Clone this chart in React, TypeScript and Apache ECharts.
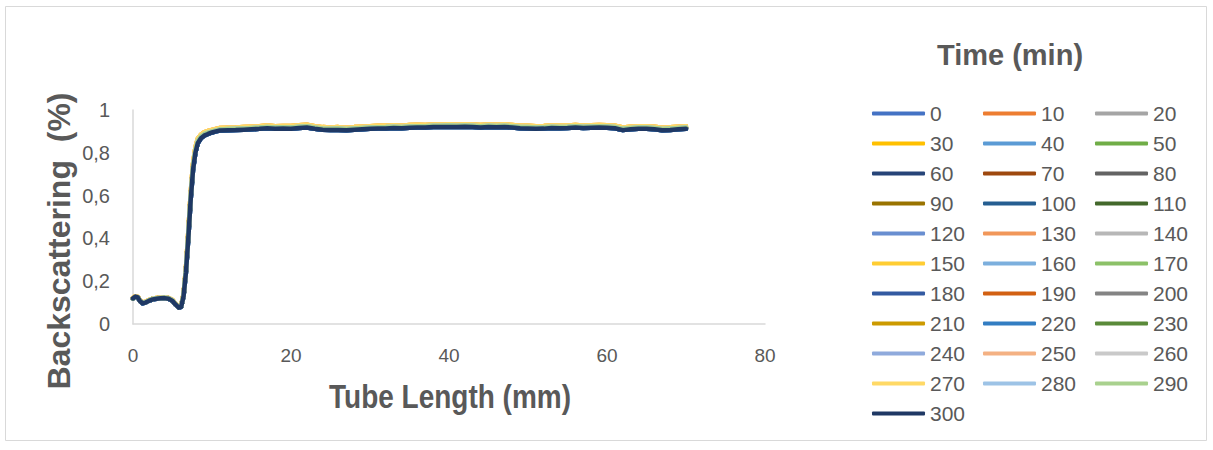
import React, { useEffect, useRef } from "react";
import * as echarts from "echarts";

const times = [0, 10, 20, 30, 40, 50, 60, 70, 80, 90, 100, 110, 120, 130, 140, 150, 160, 170, 180, 190, 200, 210, 220, 230, 240, 250, 260, 270, 280, 290, 300];

const seriesColors = [
  "#4472C4", "#ED7D31", "#A5A5A5", "#FFC000", "#5B9BD5", "#70AD47",
  "#264478", "#9E480E", "#636363", "#997300", "#255E91", "#43682B",
  "#698ED0", "#F1975A", "#B7B7B7", "#FFCD33", "#7CAFDD", "#8CC168",
  "#335AA1", "#D26012", "#848484", "#CC9A00", "#327DC2", "#5A8A39",
  "#8FAADC", "#F4B183", "#C9C9C9", "#FFD966", "#9DC3E6", "#A9D18E",
  "#1F3864",
];

const tubeLength = [
  0, 0.3, 0.6, 0.9, 1.2, 1.6, 2, 2.5, 3, 3.5,
  4, 4.5, 5, 5.4, 5.8, 6.1, 6.4, 6.7, 7, 7.3,
  7.6, 7.9, 8.2, 8.6, 9, 9.5, 10, 10.5, 11,
  12, 13, 14, 15, 16, 17, 18, 19, 20, 21,
  22, 23, 24, 25, 26, 27, 28, 29, 30, 31,
  32, 33, 34, 35, 36, 37, 38, 39, 40, 41,
  42, 43, 44, 45, 46, 47, 48, 49, 50, 51,
  52, 53, 54, 55, 56, 57, 58, 59, 60, 61,
  62, 63, 64, 65, 66, 67, 68, 69, 70,
];

// lowest profile (darkest curves, e.g. 300 min)
const profileLow = [
  0.120, 0.128, 0.124, 0.106, 0.097, 0.100, 0.108, 0.115, 0.118, 0.120,
  0.121, 0.118, 0.108, 0.090, 0.076, 0.080, 0.130, 0.240, 0.400, 0.580,
  0.720, 0.800, 0.845, 0.868, 0.880, 0.888, 0.895, 0.900, 0.904,
  0.905, 0.906, 0.908, 0.910, 0.912, 0.915, 0.912, 0.913, 0.912, 0.916,
  0.918, 0.912, 0.908, 0.906, 0.907, 0.905, 0.908, 0.910, 0.912, 0.913,
  0.914, 0.916, 0.915, 0.917, 0.918, 0.918, 0.920, 0.920, 0.921, 0.920,
  0.922, 0.920, 0.918, 0.920, 0.919, 0.921, 0.918, 0.915, 0.914, 0.912,
  0.913, 0.916, 0.915, 0.916, 0.918, 0.916, 0.917, 0.918, 0.917, 0.915,
  0.906, 0.910, 0.912, 0.912, 0.910, 0.905, 0.907, 0.910, 0.912,
];

const profileMid = [
  0.118, 0.126, 0.125, 0.108, 0.099, 0.102, 0.110, 0.117, 0.120, 0.122,
  0.123, 0.120, 0.110, 0.092, 0.078, 0.083, 0.135, 0.250, 0.415, 0.595,
  0.735, 0.812, 0.855, 0.876, 0.887, 0.894, 0.900, 0.905, 0.909,
  0.911, 0.912, 0.913, 0.916, 0.918, 0.921, 0.918, 0.919, 0.918, 0.922,
  0.924, 0.918, 0.914, 0.912, 0.913, 0.911, 0.914, 0.916, 0.918, 0.919,
  0.920, 0.922, 0.921, 0.923, 0.924, 0.924, 0.926, 0.926, 0.927, 0.926,
  0.928, 0.926, 0.924, 0.926, 0.925, 0.927, 0.924, 0.921, 0.920, 0.918,
  0.919, 0.922, 0.921, 0.922, 0.924, 0.922, 0.923, 0.924, 0.923, 0.921,
  0.912, 0.916, 0.918, 0.918, 0.916, 0.911, 0.913, 0.916, 0.918,
];

const profileHigh = [
  0.122, 0.130, 0.127, 0.110, 0.101, 0.104, 0.112, 0.119, 0.122, 0.124,
  0.125, 0.122, 0.112, 0.094, 0.080, 0.085, 0.140, 0.260, 0.430, 0.610,
  0.750, 0.825, 0.866, 0.885, 0.895, 0.902, 0.907, 0.912, 0.916,
  0.917, 0.918, 0.920, 0.922, 0.924, 0.928, 0.924, 0.925, 0.925, 0.929,
  0.931, 0.924, 0.920, 0.918, 0.920, 0.917, 0.920, 0.922, 0.924, 0.926,
  0.927, 0.929, 0.927, 0.930, 0.931, 0.930, 0.932, 0.932, 0.933, 0.932,
  0.934, 0.932, 0.930, 0.932, 0.931, 0.933, 0.930, 0.927, 0.926, 0.924,
  0.925, 0.928, 0.927, 0.928, 0.930, 0.928, 0.929, 0.930, 0.929, 0.927,
  0.918, 0.922, 0.924, 0.924, 0.922, 0.917, 0.919, 0.922, 0.924,
];

const highTimes = [30, 150, 250, 270];
const lowTimes = [60, 100, 180, 220, 300];

const xTicks = { min: 0, max: 80, interval: 20 };
const yTicks = { min: 0, max: 1, interval: 0.2 };

const textGray = "#595959";
const axisGray = "#D9D9D9";

function profileFor(t: number): number[] {
  if (highTimes.includes(t)) return profileHigh;
  if (lowTimes.includes(t)) return profileLow;
  return profileMid;
}

export default function App() {
  const ref = useRef<HTMLDivElement>(null);

  useEffect(() => {
    if (!ref.current) return;
    const chart = echarts.init(ref.current, undefined, { renderer: "svg" });

    const series = times.map((t, i) => {
      const prof = profileFor(t);
      return {
        name: String(t),
        type: "line",
        symbol: "none",
        showSymbol: false,
        data: tubeLength.map((x, j) => [x, prof[j]]),
        lineStyle: { width: 4.5, color: seriesColors[i], cap: "round", join: "round" },
        itemStyle: { color: seriesColors[i] },
        emphasis: { disabled: true },
      };
    });

    const colNames = [0, 1, 2].map((c) => times.filter((_, i) => i % 3 === c).map(String));
    const colLeft = [872, 983, 1095];

    const legends = colNames.map((names, c) => ({
      data: names,
      orient: "vertical",
      left: colLeft[c],
      top: 103,
      height: 345,
      icon: "roundRect",
      itemWidth: 53,
      itemHeight: 4,
      itemGap: 9,
      padding: 0,
      selectedMode: false,
      textStyle: { color: textGray, fontSize: 21, fontFamily: "Liberation Sans, Arial, sans-serif" },
    }));

    chart.setOption({
      animation: false,
      backgroundColor: "#ffffff",
      color: seriesColors,
      grid: { left: 133, right: 448, top: 110, bottom: 126, containLabel: false },
      xAxis: {
        type: "value",
        min: xTicks.min,
        max: xTicks.max,
        interval: xTicks.interval,
        axisLine: { show: true, lineStyle: { color: axisGray, width: 1.5 } },
        axisTick: { show: false },
        splitLine: { show: false },
        axisLabel: {
          color: textGray,
          fontSize: 19,
          margin: 22,
          fontFamily: "Liberation Sans Narrow, Arial Narrow, Liberation Sans, sans-serif",
        },
      },
      yAxis: {
        type: "value",
        min: yTicks.min,
        max: yTicks.max,
        interval: yTicks.interval,
        axisLine: { show: true, lineStyle: { color: axisGray, width: 1.5 } },
        axisTick: { show: false },
        splitLine: { show: false },
        axisLabel: {
          color: textGray,
          fontSize: 20,
          margin: 23,
          fontFamily: "Liberation Sans, Arial, sans-serif",
          formatter: (v: number) => String(Number(v.toFixed(1))).replace(".", ","),
        },
      },
      legend: legends,
      series,
      graphic: [
        {
          type: "rect",
          shape: { x: 5.5, y: 6.5, width: 1201, height: 434 },
          style: { fill: "none", stroke: "#D9D9D9", lineWidth: 1 },
          silent: true,
          z: -10,
        },
        {
          type: "text",
          x: 1010,
          y: 55,
          style: {
            text: "Time (min)",
            fill: textGray,
            font: "bold 29px 'Liberation Sans', Arial, sans-serif",
            textAlign: "center",
            textVerticalAlign: "middle",
          },
        },
        {
          type: "text",
          x: 450,
          y: 397,
          scaleY: 1.2,
          style: {
            text: "Tube Length (mm)",
            fill: textGray,
            font: "bold 28px 'Liberation Sans', Arial, sans-serif",
            textAlign: "center",
            textVerticalAlign: "middle",
          },
        },
        {
          type: "text",
          x: 59,
          y: 241,
          rotation: Math.PI / 2,
          style: {
            text: "Backscattering  (%)",
            fill: textGray,
            font: "bold 32px 'Liberation Sans', Arial, sans-serif",
            textAlign: "center",
            textVerticalAlign: "middle",
          },
        },
      ],
    });

    return () => chart.dispose();
  }, []);

  return (
    <div
      ref={ref}
      style={{ position: "absolute", left: 0, top: 0, width: 1213, height: 450, background: "#fff" }}
    />
  );
}
